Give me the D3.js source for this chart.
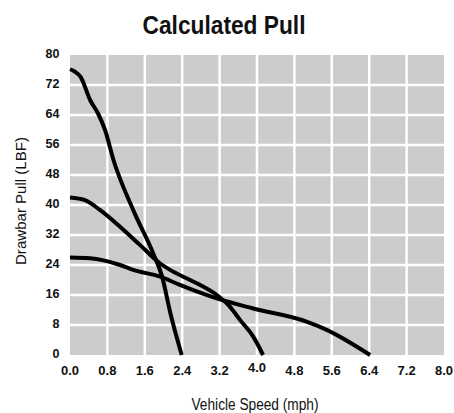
<!DOCTYPE html>
<html>
<head>
<meta charset="utf-8">
<script src="https://cdn.jsdelivr.net/npm/d3@7"></script>
<style>
  body { margin: 0; background: #fff; }
  text { font-family: "Liberation Sans", Arial, sans-serif; }
</style>
</head>
<body>
<svg id="chart" width="454" height="413"></svg>
<script>
const xTicks = [0, 0.8, 1.6, 2.4, 3.2, 4.0, 4.8, 5.6, 6.4, 7.2, 8.0]
const yTicks = [0, 8, 16, 24, 32, 40, 48, 56, 64, 72, 80]

// steep curve
const steepX = [0, 0.1, 0.23, 0.43, 0.6, 0.75, 0.93, 1.35, 1.78, 1.97, 2.15, 2.39]
const steepY = [76.2, 75.6, 74.1, 68, 64.4, 60, 52, 38.7, 27.1, 20.9, 11, 0]

// middle curve
const midX = [0, 0.32, 0.64, 1.07, 1.5, 1.93, 2.14, 2.57, 2.78, 3.14, 3.42, 3.64, 3.92, 4.13]
const midY = [42, 41.3, 38.7, 34.2, 29.3, 24.4, 22.7, 20, 18.7, 16, 12.9, 9.3, 4.9, 0]

// shallow curve
const lowX = [0, 0.43, 1.07, 1.35, 1.93, 2.35, 3.14, 3.92, 5.06, 5.49, 6.42]
const lowY = [26, 25.8, 24, 22.7, 20.9, 18.7, 15.1, 12.4, 8.9, 6.7, 0]

const svg = d3.select('#chart')
const plotL = 70, plotR = 444, plotT = 55, plotB = 355

const x = d3.scaleLinear().domain([0, 8]).range([plotL, plotR])
const y = d3.scaleLinear().domain([0, 80]).range([plotB, plotT])

svg.append('rect')
    .attr('x', plotL).attr('y', plotT)
    .attr('width', plotR - plotL).attr('height', plotB - plotT)
    .attr('fill', '#cccccc')

// grid
svg.append('g').selectAll('line')
    .data(xTicks.slice(1, -1))
    .enter().append('line')
    .attr('x1', d => x(d)).attr('x2', d => x(d))
    .attr('y1', plotT).attr('y2', plotB)
    .attr('stroke', '#fff').attr('stroke-width', 2.5)

svg.append('g').selectAll('line')
    .data(yTicks.slice(1, -1))
    .enter().append('line')
    .attr('y1', d => y(d)).attr('y2', d => y(d))
    .attr('x1', plotL).attr('x2', plotR)
    .attr('stroke', '#fff').attr('stroke-width', 2.5)

// tick labels
svg.append('g').selectAll('text')
    .data(yTicks)
    .enter().append('text')
    .attr('x', 59.5)
    .attr('y', d => y(d) + 3)
    .attr('text-anchor', 'end')
    .attr('font-size', 12.5)
    .attr('font-weight', 'bold')
    .attr('fill', '#111')
    .text(d => d)

svg.append('g').selectAll('text')
    .data(xTicks)
    .enter().append('text')
    .attr('x', d => x(d))
    .attr('y', d => d === 4.0 ? 372 : 375)
    .attr('text-anchor', 'middle')
    .attr('font-size', 13)
    .attr('font-weight', 'bold')
    .attr('fill', '#111')
    .text(d => d.toFixed(1))

// titles
svg.append('text')
    .attr('x', 224).attr('y', 34)
    .attr('text-anchor', 'middle')
    .attr('font-size', 26)
    .attr('font-weight', 'bold')
    .attr('textLength', 163)
    .attr('lengthAdjust', 'spacingAndGlyphs')
    .attr('fill', '#111')
    .text('Calculated Pull')

svg.append('text')
    .attr('x', 255).attr('y', 410)
    .attr('text-anchor', 'middle')
    .attr('font-size', 16)
    .attr('textLength', 127)
    .attr('lengthAdjust', 'spacingAndGlyphs')
    .attr('fill', '#111')
    .text('Vehicle Speed (mph)')

svg.append('text')
    .attr('transform', 'translate(25.5,201) rotate(-90)')
    .attr('text-anchor', 'middle')
    .attr('font-size', 15)
    .attr('textLength', 128)
    .attr('lengthAdjust', 'spacingAndGlyphs')
    .attr('fill', '#111')
    .text('Drawbar Pull (LBF)')

// curves
const line = d3.line()
    .x(d => x(d[0]))
    .y(d => y(d[1]))
    .curve(d3.curveMonotoneX)

const series = [
    d3.zip(steepX, steepY),
    d3.zip(midX, midY),
    d3.zip(lowX, lowY)
]

svg.append('g').selectAll('path')
    .data(series)
    .enter().append('path')
    .attr('d', line)
    .attr('fill', 'none')
    .attr('stroke', '#000')
    .attr('stroke-width', 4)
</script>
</body>
</html>
